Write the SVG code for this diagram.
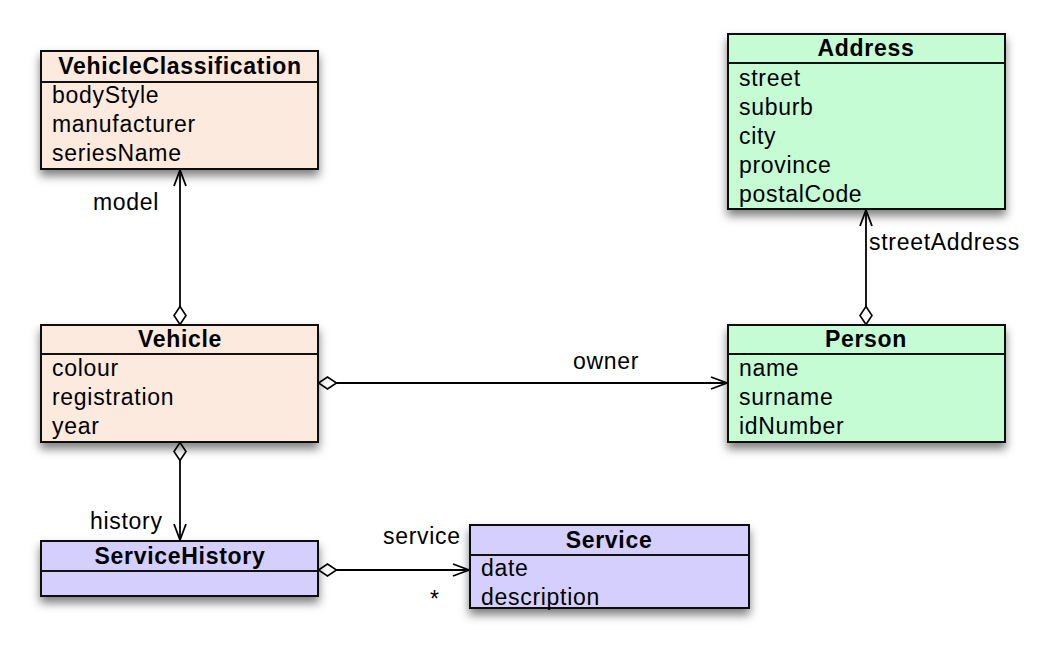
<svg xmlns="http://www.w3.org/2000/svg" width="1061" height="663" viewBox="0 0 1061 663">
<style>
text{font-family:"Liberation Sans",Arial,Helvetica,sans-serif;font-size:23px;letter-spacing:0.7px;fill:#000}
.t{font-weight:bold;text-anchor:middle;letter-spacing:0.7px}
.box{stroke:#111;stroke-width:2}
.sep{stroke:#111;stroke-width:2}
.peach{fill:#fdeadf}
.green{fill:#c6fcd4}
.purple{fill:#d4cffc}
.edge{stroke:#000;stroke-width:1.8;fill:none;marker-start:url(#dia);marker-end:url(#arr)}
</style>
<defs>
<filter id="sh" x="-10%" y="-10%" width="120%" height="150%">
<feDropShadow dx="0" dy="6" stdDeviation="5" flood-color="#000" flood-opacity="0.5"/>
</filter>
<marker id="dia" markerUnits="userSpaceOnUse" markerWidth="20" markerHeight="14" refX="0" refY="7" orient="auto" viewBox="0 0 20 14" overflow="visible">
<path d="M0.5,7 L9.5,1 L18.5,7 L9.5,13 Z" fill="#fff" stroke="#000" stroke-width="1.6"/>
</marker>
<marker id="arr" markerUnits="userSpaceOnUse" markerWidth="18" markerHeight="14" refX="17" refY="7" orient="auto" viewBox="0 0 18 14" overflow="visible">
<path d="M1,1 L17,7 L1,13" fill="none" stroke="#000" stroke-width="1.8"/>
</marker>
</defs>

<g id="connectors">
<line class="edge" x1="180" y1="325" x2="180" y2="170"/>
<line class="edge" x1="866" y1="325" x2="866" y2="210"/>
<line class="edge" x1="318" y1="383" x2="727" y2="383"/>
<line class="edge" x1="180" y1="442" x2="180" y2="540"/>
<line class="edge" x1="318" y1="570" x2="469" y2="570"/>
<text x="93" y="210">model</text>
<text x="869" y="250">streetAddress</text>
<text x="573" y="369">owner</text>
<text x="90" y="529">history</text>
<text x="383" y="544">service</text>
<text x="430" y="607">*</text>
</g>

<g id="VehicleClassification">
<rect class="box peach" x="41" y="51" width="277" height="118" filter="url(#sh)"/>
<line class="sep" x1="41" y1="82" x2="318" y2="82"/>
<text class="t" x="180" y="74">VehicleClassification</text>
<text x="52" y="103">bodyStyle</text>
<text x="52" y="132">manufacturer</text>
<text x="52" y="161">seriesName</text>
</g>

<g id="Address">
<rect class="box green" x="728" y="34" width="277" height="175" filter="url(#sh)"/>
<line class="sep" x1="728" y1="63" x2="1005" y2="63"/>
<text class="t" x="866" y="56">Address</text>
<text x="739" y="86">street</text>
<text x="739" y="115">suburb</text>
<text x="739" y="144">city</text>
<text x="739" y="173">province</text>
<text x="739" y="202">postalCode</text>
</g>

<g id="Vehicle">
<rect class="box peach" x="41" y="325" width="277" height="117" filter="url(#sh)"/>
<line class="sep" x1="41" y1="354" x2="318" y2="354"/>
<text class="t" x="180" y="347">Vehicle</text>
<text x="52" y="376">colour</text>
<text x="52" y="405">registration</text>
<text x="52" y="434">year</text>
</g>

<g id="Person">
<rect class="box green" x="728" y="325" width="277" height="117" filter="url(#sh)"/>
<line class="sep" x1="728" y1="354" x2="1005" y2="354"/>
<text class="t" x="866" y="347">Person</text>
<text x="739" y="376">name</text>
<text x="739" y="405">surname</text>
<text x="739" y="434">idNumber</text>
</g>

<g id="ServiceHistory">
<rect class="box purple" x="41" y="541" width="277" height="55" filter="url(#sh)"/>
<line class="sep" x1="41" y1="571" x2="318" y2="571"/>
<text class="t" x="180" y="564">ServiceHistory</text>
</g>

<g id="Service">
<rect class="box purple" x="470" y="525" width="279" height="83" filter="url(#sh)"/>
<line class="sep" x1="470" y1="555" x2="749" y2="555"/>
<text class="t" x="609" y="548">Service</text>
<text x="481" y="576">date</text>
<text x="481" y="605">description</text>
</g>
</svg>
